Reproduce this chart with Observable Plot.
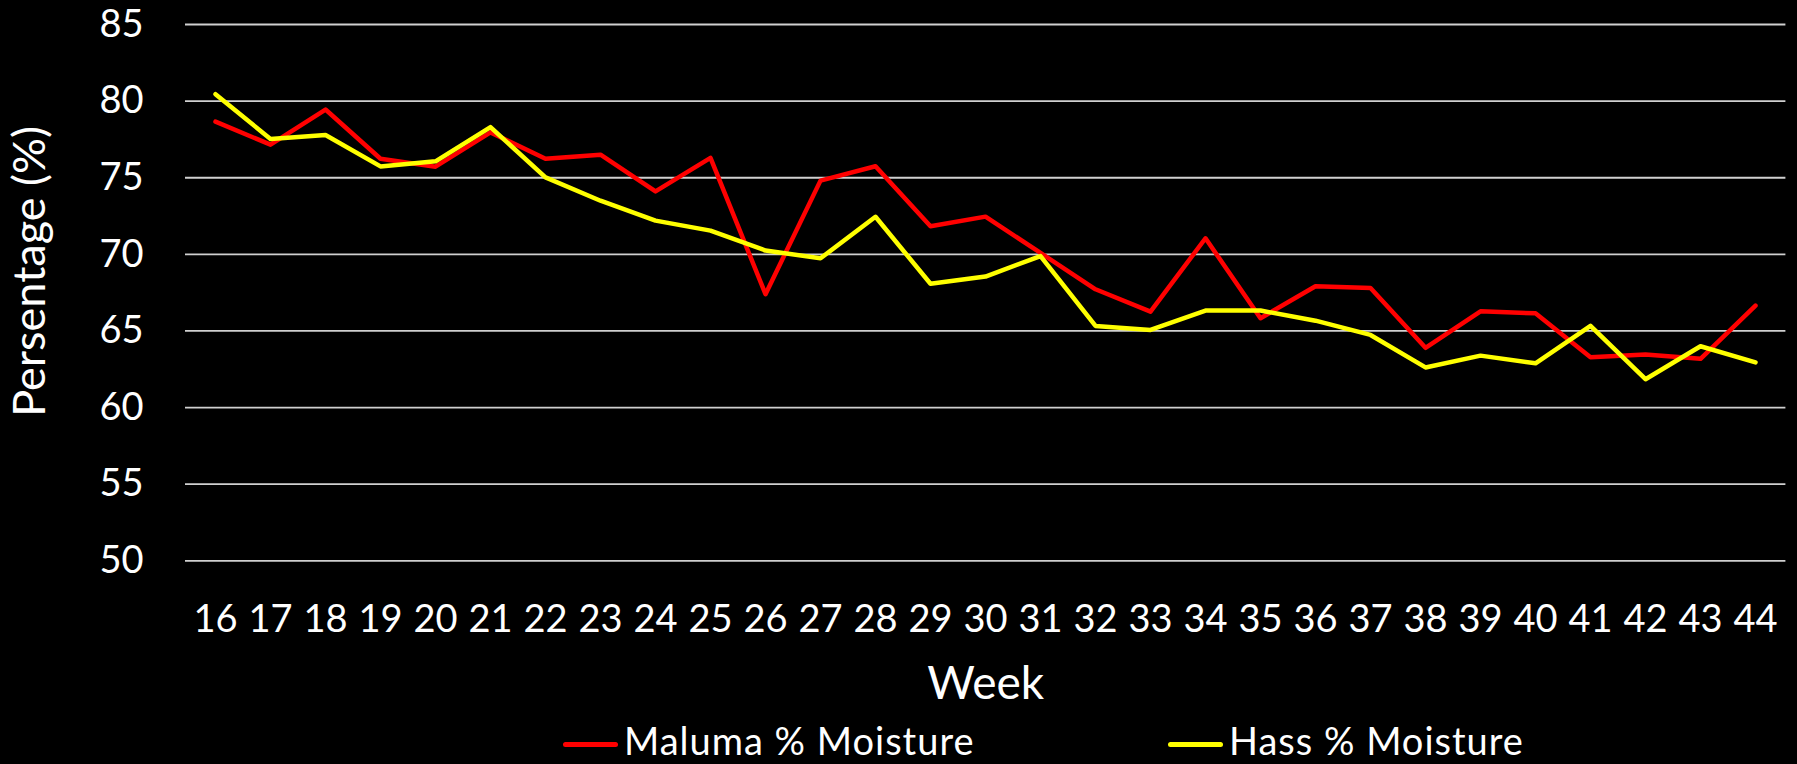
<!DOCTYPE html>
<html>
<head>
<meta charset="utf-8">
<script src="https://cdn.jsdelivr.net/npm/d3@7"></script>
<script src="https://cdn.jsdelivr.net/npm/@observablehq/plot@0.6"></script>
<style>
  html, body { margin: 0; padding: 0; background: #000; }
  body { width: 1797px; height: 764px; overflow: hidden; font-family: Lato, "Open Sans", sans-serif; color: #fff; }
  #chart svg { display: block; }
  #legend { position: relative; height: 50px; width: 1797px; }
  .item { position: absolute; top: 6px; height: 40px; line-height: 40px; display: flex; align-items: center; font-size: 38px; letter-spacing: 1px; white-space: nowrap; }
  .swatch { width: 55px; height: 5px; border-radius: 3px; margin-right: 6px; position: relative; top: 4px; }
</style>
</head>
<body>
<div id="chart"></div>
<div id="legend"></div>
<script>
const weeks = [16,17,18,19,20,21,22,23,24,25,26,27,28,29,30,31,32,33,34,35,36,37,38,39,40,41,42,43,44];
const maluma = [78.66,77.16,79.45,76.24,75.72,77.96,76.24,76.5,74.11,76.3,67.4,74.81,75.75,71.83,72.46,70.09,67.72,66.26,71.05,65.83,67.92,67.81,63.9,66.28,66.15,63.28,63.46,63.18,66.65];
const hass = [80.45,77.53,77.79,75.74,76.07,78.3,75.02,73.5,72.2,71.55,70.25,69.74,72.45,68.08,68.55,69.89,65.33,65.07,66.33,66.33,65.67,64.74,62.62,63.39,62.89,65.33,61.85,64.0,62.95];
const seriesNames = ["Maluma % Moisture", "Hass % Moisture"];
const seriesColors = ["#ff0000", "#ffff00"];
const yTicks = [50,55,60,65,70,75,80,85];
const xTitle = "Week";
const yTitle = "Persentage (%)";

const malumaData = weeks.map((w, i) => ({week: w, value: maluma[i]}));
const hassData = weeks.map((w, i) => ({week: w, value: hass[i]}));

const chart = Plot.plot({
  width: 1797,
  height: 714,
  marginTop: 24,
  marginBottom: 153.7,
  marginLeft: 185,
  marginRight: 11.6,
  style: {background: "#000", color: "#fff", fontFamily: "Lato, 'Open Sans', sans-serif"},
  x: {type: "point", domain: weeks, padding: 0.5},
  y: {domain: [50, 85]},
  marks: [
    Plot.ruleY(yTicks, {stroke: "#d0d0d0", strokeWidth: 1.8}),
    Plot.axisY({ticks: yTicks, tickSize: 0, tickPadding: 42, fontSize: 38, label: null, fill: "#fff"}),
    Plot.axisX({tickSize: 0, tickPadding: 44, fontSize: 38, label: null, fill: "#fff"}),
    Plot.line(malumaData, {x: "week", y: "value", stroke: seriesColors[0], strokeWidth: 4.5, strokeLinejoin: "round", strokeLinecap: "round"}),
    Plot.line(hassData, {x: "week", y: "value", stroke: seriesColors[1], strokeWidth: 4.5, strokeLinejoin: "round", strokeLinecap: "round"}),
    Plot.text([xTitle], {frameAnchor: "bottom", textAnchor: "middle", lineAnchor: "middle", dy: 123.7, fontSize: 46, fill: "#fff"}),
    Plot.text([yTitle], {frameAnchor: "left", textAnchor: "middle", lineAnchor: "middle", dx: -154.5, dy: -21.3, rotate: -90, fontSize: 45, letterSpacing: 0.8, fill: "#fff"})
  ]
});
document.getElementById("chart").appendChild(chart);

const legend = document.getElementById("legend");
const lefts = [563, 1168];
seriesNames.forEach((name, i) => {
  const item = document.createElement("div");
  item.className = "item";
  item.style.left = lefts[i] + "px";
  const sw = document.createElement("div");
  sw.className = "swatch";
  sw.style.background = seriesColors[i];
  const t = document.createElement("span");
  t.textContent = name;
  item.appendChild(sw);
  item.appendChild(t);
  legend.appendChild(item);
});
</script>
</body>
</html>
